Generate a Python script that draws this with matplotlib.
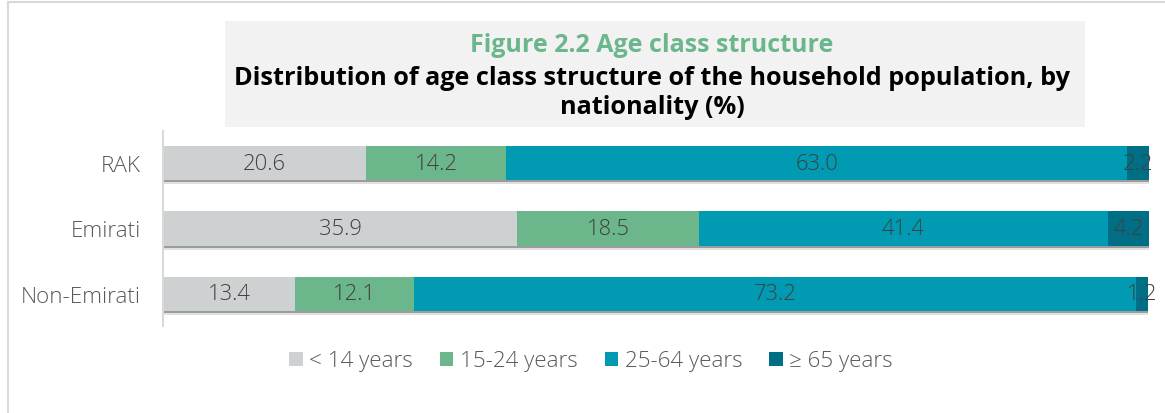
import matplotlib
matplotlib.use("Agg")
import matplotlib.pyplot as plt
import matplotlib.patheffects as pe
from matplotlib.patches import Rectangle, Patch
from matplotlib.lines import Line2D
import numpy as np

categories = ["RAK", "Emirati", "Non-Emirati"]
series_names = ["< 14 years", "15-24 years", "25-64 years", "\u2265 65 years"]
under14 = [20.6, 35.9, 13.4]
age15_24 = [14.2, 18.5, 12.1]
age25_64 = [63.0, 41.4, 73.2]
over65 = [2.2, 4.2, 1.2]
colors = ["#cdd1d2", "#6bb68b", "#009ab2", "#006e84"]

title_green = "Figure 2.2 Age class structure"
subtitle = "Distribution of age class structure of the household population, by\nnationality (%)"

plt.rcParams['font.family'] = ['Open Sans', 'DejaVu Sans']

W, H = 1165, 414
fig = plt.figure(figsize=(W / 100, H / 100), dpi=100)

# outer frame lines (top and left)
fig.add_artist(Line2D([8 / W, 1.0], [1 - 3 / H, 1 - 3 / H], transform=fig.transFigure,
                      color="#d9d9d9", lw=1.5))
fig.add_artist(Line2D([8 / W, 8 / W], [0, 1 - 3 / H], transform=fig.transFigure,
                      color="#d9d9d9", lw=1.5))

# title box
fig.add_artist(Rectangle((225 / W, 1 - 128 / H), (1085 - 225) / W, (128 - 22) / H,
                         transform=fig.transFigure, facecolor="#f2f2f2", edgecolor="none"))
fig.text(652 / W, 1 - 45 / H, title_green, ha="center", va="center", color="#6bb68b",
         fontsize=18, fontweight="bold")
fig.text(652 / W, 1 - 93 / H, subtitle, ha="center", va="center", color="black",
         fontsize=18.2, fontweight="bold", linespacing=1.22)

ax = fig.add_axes([163 / W, 1 - 327 / H, (1149 - 163) / W, (327 - 132) / H])
y = np.arange(len(categories))
data = [under14, age15_24, age25_64, over65]
left = np.zeros(len(categories))
shadow = [pe.SimplePatchShadow(offset=(0, -3), shadow_rgbFace="#000000", alpha=0.12),
          pe.SimplePatchShadow(offset=(0, -1.5), shadow_rgbFace="#000000", alpha=0.3),
          pe.Normal()]
for vals, col, name in zip(data, colors, series_names):
    bars = ax.barh(y, vals, left=left, height=0.52, color=col, label=name, zorder=2)
    for b in bars:
        b.set_path_effects(shadow)
    ax.bar_label(bars, labels=[f"{v:.1f}" for v in vals], label_type="center",
                 color="#404040", fontsize=15.8, fontweight="light", zorder=3)
    left += np.array(vals)

ax.set_xlim(0, 100)
ax.set_ylim(2.49, -0.49)
ax.set_yticks(y)
ax.set_yticklabels(categories, fontsize=16.2, color="#595959", fontweight="light")
ax.tick_params(axis="y", length=0, pad=16)
ax.set_xticks([])
for s in ["top", "right", "bottom"]:
    ax.spines[s].set_visible(False)
ax.spines["left"].set_color("#d9d9d9")
ax.spines["left"].set_linewidth(1.5)
ax.patch.set_alpha(0)

handles = [Patch(facecolor=c, edgecolor="none") for c in colors]
leg = fig.legend(handles, series_names, loc="center", bbox_to_anchor=(591 / W, 1 - 362 / H),
                 ncol=4, frameon=False, labelcolor="#595959",
                 handlelength=0.6, handleheight=0.6, handletextpad=0.3, columnspacing=1.2,
                 prop={"weight": "light", "size": 16.1})

fig.savefig("out.png", dpi=100)
